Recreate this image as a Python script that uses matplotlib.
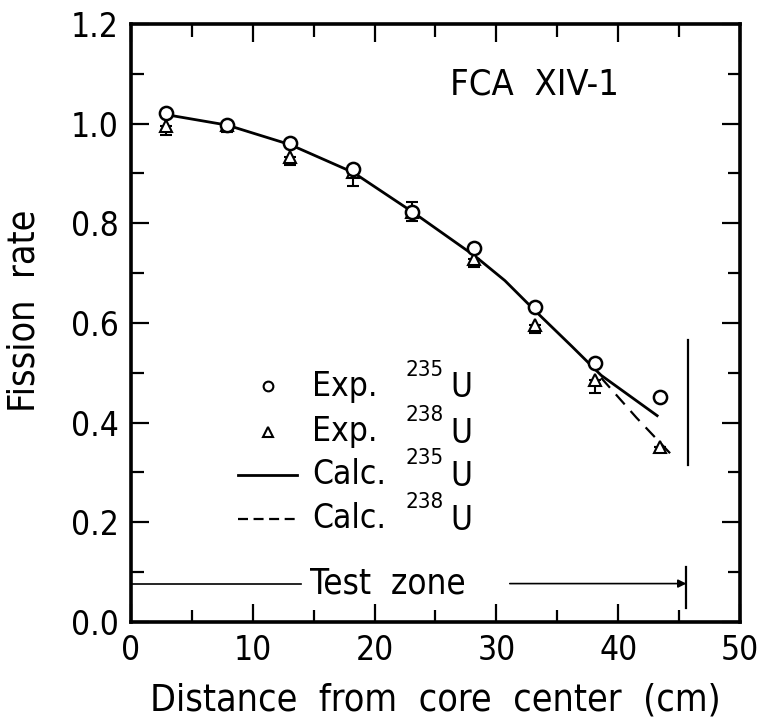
import numpy as np
import matplotlib.pyplot as plt

# narrow lettering: DejaVu Sans Condensed
plt.rcParams['font.family'] = ['DejaVu Sans']
plt.rcParams['font.stretch'] = 'condensed'

# measured points (distance in cm, relative fission rate)
x_exp = [2.9, 7.9, 13.05, 18.25, 23.1, 28.2, 33.2, 38.1, 43.4]
u235_exp = [1.021, 0.997, 0.962, 0.909, 0.822, 0.750, 0.632, 0.520, 0.451]
u238_exp = [0.995, 0.997, 0.934, 0.902, 0.823, 0.728, 0.596, 0.486, 0.352]
u238_err_lo = [0.018, 0.013, 0.018, 0.027, 0.019, 0.016, 0.016, 0.026, 0.0]
u238_err_hi = [0.0, 0.0, 0.0, 0.0, 0.019, 0.0, 0.0, 0.0, 0.0]

# calculated curves
x_calc235 = [2.9, 7.9, 13.05, 18.25, 23.1, 28.2, 30.7, 33.2, 36.2, 38.6, 43.2]
calc235 = [1.018, 0.997, 0.958, 0.902, 0.823, 0.735, 0.685, 0.624, 0.553, 0.495, 0.414]
x_calc238 = [38.6, 41.5, 44.4]
calc238 = [0.49, 0.41, 0.335]

fig = plt.figure(figsize=(7.58, 7.26), dpi=100)
ax = fig.add_axes([0.1728, 0.1433, 0.8034, 0.8237])

ax.plot(x_calc235, calc235, '-', color='black', lw=2, zorder=2)
ax.plot(x_calc238, calc238, color='black', lw=1.6, dashes=(6, 4), zorder=2)
ax.errorbar(x_exp, u238_exp, yerr=[u238_err_lo, u238_err_hi], fmt='^', ms=8.5,
            mfc='white', mec='black', mew=1.5, ecolor='black', elinewidth=1.5,
            capsize=4, capthick=1.8, zorder=3)
ax.plot(x_exp, u235_exp, 'o', ms=9.5, mfc='white', mec='black', mew=1.8, zorder=4)

# core boundary mark and test zone arrow
ax.plot([45.75, 45.75], [0.315, 0.566], color='black', lw=1.6)
ax.plot([45.6, 45.6], [0.028, 0.111], color='black', lw=1.6)
ax.plot([0, 14.0], [0.077, 0.077], color='black', lw=1.2)
ax.annotate('', xy=(45.6, 0.077), xytext=(31.1, 0.077),
            arrowprops=dict(arrowstyle='-|>', color='black', lw=1.2,
                            mutation_scale=12, shrinkA=0, shrinkB=0))
ax.text(14.7, 0.077, 'Test  zone', ha='left', va='center', fontsize=25)
ax.text(33.1, 1.079, 'FCA  XIV-1', ha='center', va='center', fontsize=26)

# legend drawn by hand so the isotope labels line up like the original
ax.plot([11.27], [0.4725], 'o', ms=7, mfc='white', mec='black', mew=1.5)
ax.plot([11.27], [0.382], '^', ms=6.5, mfc='white', mec='black', mew=1.5)
ax.plot([8.8, 13.6], [0.295, 0.295], '-', color='black', lw=2)
ax.plot([8.8, 13.6], [0.207, 0.207], color='black', lw=1.6, dashes=(4.5, 2.5))
leg_words = ['Exp.', 'Exp.', 'Calc.', 'Calc.']
leg_iso = ['235', '238', '235', '238']
leg_rows = [0.4725, 0.382, 0.295, 0.207]
for word, iso, yr in zip(leg_words, leg_iso, leg_rows):
    ax.text(14.9, yr, word, ha='left', va='center', fontsize=24)
    ax.text(25.7, yr + 0.034, iso, ha='right', va='center', fontsize=16)
    ax.text(26.2, yr - 0.003, 'U', ha='left', va='center', fontsize=24)

ax.set_xlim(0, 50)
ax.set_ylim(0, 1.2)
ax.set_xticks(np.arange(0, 51, 10))
ax.set_xticks(np.arange(0, 51, 5), minor=True)
ax.set_yticks(np.arange(0, 1.21, 0.2))
ax.set_yticks(np.arange(0, 1.21, 0.1), minor=True)
ax.set_yticklabels(['0.0', '0.2', '0.4', '0.6', '0.8', '1.0', '1.2'])
ax.tick_params(which='both', direction='in', top=True, right=True, labelsize=24, width=1.6)
ax.tick_params(which='major', length=13, pad=9)
ax.tick_params(which='minor', length=9)
for s in ax.spines.values():
    s.set_linewidth(2.6)

ax.set_xlabel('Distance  from  core  center  (cm)', fontsize=27)
ax.set_ylabel('Fission  rate', fontsize=27)
ax.xaxis.set_label_coords(0.5, -0.102)
ax.yaxis.set_label_coords(-0.145, 0.52)

fig.savefig('out.png', dpi=100)
